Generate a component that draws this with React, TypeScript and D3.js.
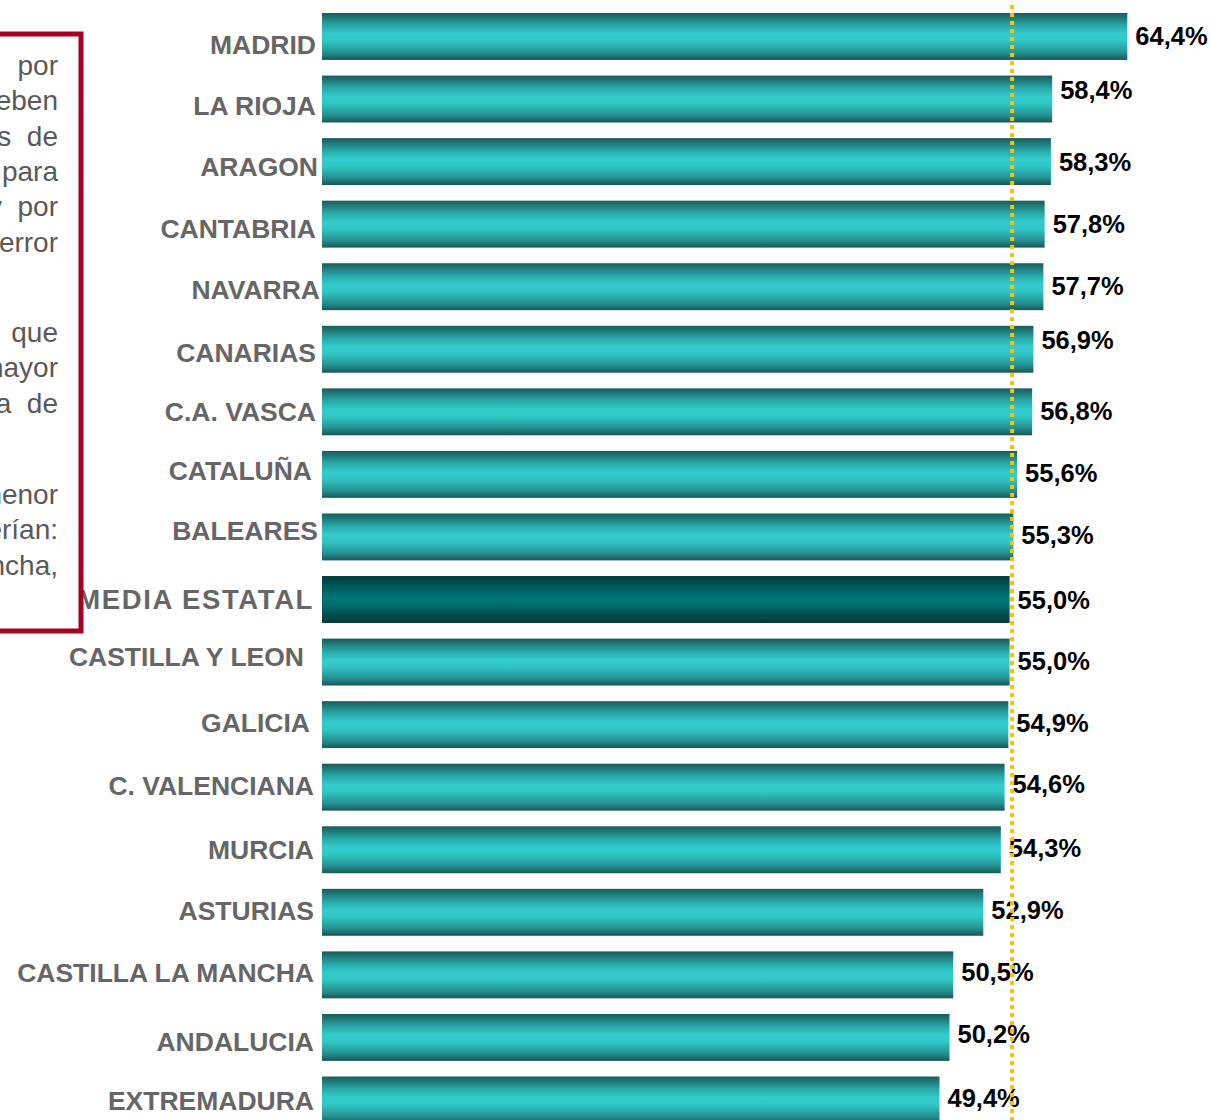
import React from "react";
import * as d3 from "d3";

const categories = [
  "MADRID", "LA RIOJA", "ARAGON", "CANTABRIA", "NAVARRA", "CANARIAS",
  "C.A. VASCA", "CATALUÑA", "BALEARES", "MEDIA ESTATAL", "CASTILLA Y LEON",
  "GALICIA", "C. VALENCIANA", "MURCIA", "ASTURIAS", "CASTILLA LA MANCHA",
  "ANDALUCIA", "EXTREMADURA",
];
const values = [
  64.4, 58.4, 58.3, 57.8, 57.7, 56.9, 56.8, 55.6, 55.3, 55.0, 55.0, 54.9,
  54.6, 54.3, 52.9, 50.5, 50.2, 49.4,
];
const highlightCategory = "MEDIA ESTATAL";
const referenceValue = 55.2;

// visible (clipped) fragments of the side note, right-aligned
const noteParagraphs = [
  ["por", "deben", "s  de", "para", "y  por", "error"],
  ["que", "mayor", "a  de"],
  ["menor", "serían:", "Mancha,"],
];

// hand-placed label nudges seen in the original slide (layout, not data)
const catLabelDx = [0, 0, 2, 0, 4, 0, 0, -4, 2, -2, -12, -6, -2, -2, -2, -2, -2, -2];
const catLabelDy = [8.5, 6, 5, 4, 3, 3, 0, -4, -6, 0, -6, -2, -2, 0, -2, -2, 4, 1];
const valLabelDy = [0, -9, 0, 0, -1, -9, -1, -1, -2, 0, -1, -2, -3, -2, -2, -3, -3, -2];

const W = 1211;
const H = 1120;

const fmt = (v: number) => d3.format(".1f")(v).replace(".", ",") + "%";

export default function App() {
  const x = d3.scaleLinear().domain([0, 70]).range([321, 321 + 70 * 12.52]);
  const step = 62.56;
  const y = d3
    .scaleBand<string>()
    .domain(categories)
    .range([13 - 0.125 * step, 13 - 0.125 * step + categories.length * step])
    .paddingInner(0.25)
    .paddingOuter(0.125);
  const bh = y.bandwidth();

  const noteLines: { t: string; yb: number }[] = [];
  const paraStarts = [75, 342, 504];
  noteParagraphs.forEach((p, pi) =>
    p.forEach((t, i) => noteLines.push({ t, yb: paraStarts[pi] + i * 35.3 }))
  );

  return (
    <svg
      width={W}
      height={H}
      style={{ position: "absolute", left: 0, top: 0, background: "#fff" }}
      fontFamily="Liberation Sans, Arial, sans-serif"
    >
      <defs>
        <linearGradient id="barGrad" x1="0" y1="0" x2="0" y2="1">
          <stop offset="0" stopColor="#1A5B5B" />
          <stop offset="0.28" stopColor="#2AABAB" />
          <stop offset="0.45" stopColor="#33CCCC" />
          <stop offset="0.6" stopColor="#31C6C6" />
          <stop offset="0.85" stopColor="#24908F" />
          <stop offset="1" stopColor="#175757" />
        </linearGradient>
        <linearGradient id="avgGrad" x1="0" y1="0" x2="0" y2="1">
          <stop offset="0" stopColor="#003A3A" />
          <stop offset="0.45" stopColor="#007575" />
          <stop offset="0.6" stopColor="#007070" />
          <stop offset="1" stopColor="#003636" />
        </linearGradient>
      </defs>

      {categories.map((c, i) => {
        const yy = y(c)!;
        const v = values[i];
        const hl = c === highlightCategory;
        return (
          <g key={c}>
            <rect
              x={x(0) + 1}
              y={yy}
              width={x(v) - x(0) - 1}
              height={bh}
              fill={hl ? "url(#avgGrad)" : "url(#barGrad)"}
            />
            <text
              x={316 + catLabelDx[i]}
              y={yy + bh / 2 + 9.5 + catLabelDy[i]}
              textAnchor="end"
              fontSize={hl ? 27.5 : 26.5}
              fontWeight="bold"
              fill="#666666"
              letterSpacing={hl ? 1.6 : 0}
            >
              {c}
            </text>
            <text
              x={x(v) + 8}
              y={yy + bh / 2 + 9 + valLabelDy[i]}
              fontSize={25.5}
              fontWeight="bold"
              fill="#000"
            >
              {fmt(v)}
            </text>
          </g>
        );
      })}

      <line
        x1={x(referenceValue)}
        x2={x(referenceValue)}
        y1={5}
        y2={H}
        stroke="#FFC000"
        strokeWidth={4}
        strokeDasharray="4 4"
      />

      <rect x={-20} y={34} width={101} height={597} fill="#fff" stroke="#A50021" strokeWidth={5} />
      {noteLines.map((l, i) => (
        <text
          key={i}
          x={58}
          y={l.yb}
          textAnchor="end"
          fontSize={28}
          fill="#595959"
          style={{ whiteSpace: "pre" }}
        >
          {l.t}
        </text>
      ))}
    </svg>
  );
}
